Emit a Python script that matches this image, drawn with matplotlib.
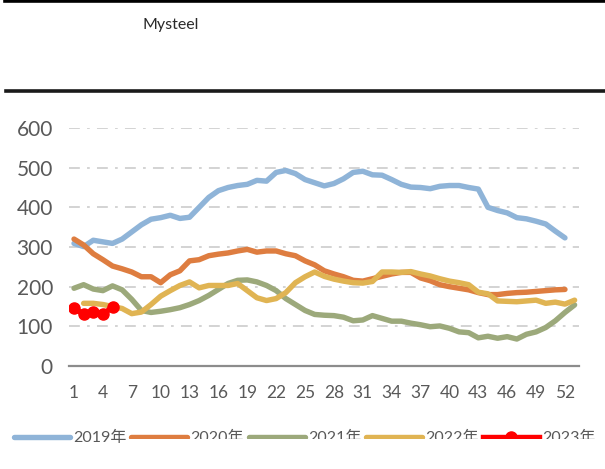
import matplotlib
matplotlib.use("Agg")
import matplotlib.pyplot as plt
from matplotlib.lines import Line2D
from matplotlib.patches import Rectangle

plt.rcParams['font.family'] = ['Lato', 'Noto Sans CJK SC', 'DejaVu Sans']

weeks = list(range(1, 54))
x_ticks = list(range(1, 53, 3))
y_ticks = [0, 100, 200, 300, 400, 500, 600]

y2019 = [309, 301, 317, 313, 309, 320, 338, 356, 370, 374, 380, 372, 375, 400, 425, 442, 450, 455,
         458, 468, 466, 488, 493, 485, 470, 462, 454, 460, 472, 488, 491, 482, 481, 470, 458, 451,
         450, 447, 453, 455, 455, 450, 446, 400, 392, 386, 374, 371, 365, 358, 340, 323]
y2020 = [320, 305, 283, 268, 252, 245, 237, 225, 225, 210, 230, 240, 265, 268, 278, 282, 285, 290,
         294, 287, 290, 290, 283, 278, 265, 255, 240, 232, 225, 216, 214, 220, 226, 232, 236, 236,
         222, 215, 205, 200, 196, 192, 185, 180, 180, 183, 185, 186, 188, 190, 192, 193]
y2021 = [196, 205, 194, 190, 202, 192, 168, 140, 135, 138, 142, 147, 155, 165, 178, 193, 208, 216,
         217, 212, 203, 190, 170, 155, 140, 130, 128, 127, 123, 114, 116, 127, 120, 113, 113, 108,
         104, 99, 101, 95, 86, 84, 71, 75, 70, 74, 68, 80, 86, 97, 114, 135, 154]
# 2022 starts at week 2
y2022 = [158, 158, 155, 150, 145, 132, 136, 155, 176, 190, 203, 212, 197, 203, 203, 203, 208, 190,
         172, 165, 170, 185, 210, 225, 237, 226, 219, 214, 210, 209, 213, 237, 237, 236, 238, 232,
         227, 220, 214, 210, 205, 186, 182, 164, 163, 162, 164, 166, 158, 161, 156, 166]
y2023 = [145, 131, 137, 131, 148]

labels = ['2019年', '2020年', '2021年', '2022年', '2023年']
colors = ['#8FB4D8', '#DE7D40', '#9CA97B', '#E0B453', '#FF0000']

W, H = 605, 469
fig = plt.figure(figsize=(W / 100, H / 100), dpi=100)

# header decorations
fig.add_artist(Line2D([5 / W, 1], [1 - 1.5 / H, 1 - 1.5 / H], color='black', lw=2.6))
fig.add_artist(Line2D([6 / W, 1], [1 - 91 / H, 1 - 91 / H], color='#1a1a1a', lw=2.6))
fig.text(142 / W, 1 - 25 / H, 'Mysteel', fontsize=11.5, color='#2a2a2a',
         va='center', ha='left')

ax_l, ax_r = 69.2, 579.4
ax_t, ax_b = 128, 366
ax = fig.add_axes([ax_l / W, 1 - ax_b / H, (ax_r - ax_l) / W, (ax_b - ax_t) / H])

lw = 3.9
kw = dict(lw=lw, solid_capstyle='round', solid_joinstyle='round', zorder=3)
ax.plot(weeks[:52], y2019, color=colors[0], **kw)
ax.plot(weeks[:52], y2020, color=colors[1], **kw)
ax.plot(weeks[:53], y2021, color=colors[2], **kw)
ax.plot(weeks[1:53], y2022, color=colors[3], **kw)
ax.plot(weeks[:5], y2023, color=colors[4], lw=lw, marker='o', markersize=8, zorder=4)

ax.set_xlim(0.5, 53.5)
ax.set_ylim(0, 600)
ax.set_yticks(y_ticks)
ax.set_xticks(x_ticks)
ax.tick_params(axis='y', length=0, pad=11.7, labelsize=15, labelcolor='#595959')
ax.tick_params(axis='x', length=0, pad=14, labelsize=12.5, labelcolor='#595959')
ax.yaxis.grid(True, color='#D0D0D0', lw=1.3, linestyle=(0, (6, 4, 1.5, 4)))
ax.set_axisbelow(True)
for s in ['top', 'right', 'left']:
    ax.spines[s].set_visible(False)
ax.spines['bottom'].set_color('#8C8C8C')
ax.spines['bottom'].set_linewidth(1.6)
ax.spines['bottom'].set_zorder(2)
ax.get_ygridlines()[0].set_visible(False)

handles = [Line2D([], [], color=c, lw=lw, solid_capstyle='round') for c in colors[:4]]
handles.append(Line2D([], [], color=colors[4], lw=lw, marker='o', markersize=8))
leg = fig.legend(handles, labels, ncol=5, loc='center left',
                 bbox_to_anchor=(14 / W, 1 - 438 / H), frameon=False,
                 fontsize=11.5, handlelength=3.5, handletextpad=0.2,
                 columnspacing=0.3, borderpad=0, borderaxespad=0)
for t in leg.get_texts():
    t.set_color('#595959')

# reference image has the lower part of most legend labels cut off
fig.add_artist(Rectangle((128 / W, 0), 1 - 128 / W, 1 - 439 / H, transform=fig.transFigure,
                         facecolor='white', edgecolor='none', zorder=10))

fig.savefig('out.png', dpi=100)
